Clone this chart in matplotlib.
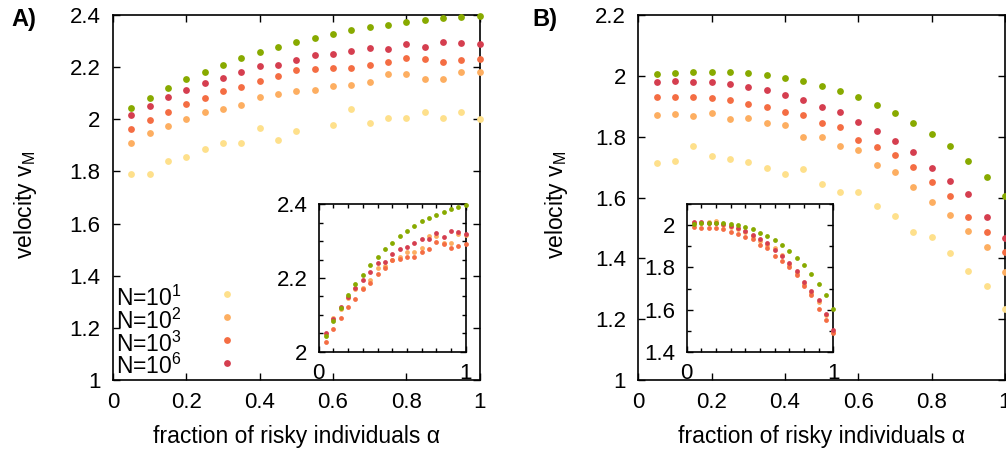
import numpy as np
import matplotlib
matplotlib.use("Agg")
import matplotlib.pyplot as plt
from matplotlib.ticker import FuncFormatter, MultipleLocator

plt.rcParams['font.family'] = ['Liberation Sans', 'DejaVu Sans']
plt.rcParams['mathtext.fontset'] = 'custom'
plt.rcParams['mathtext.rm'] = 'Liberation Sans'
plt.rcParams['mathtext.it'] = 'Liberation Sans:italic'
plt.rcParams['mathtext.bf'] = 'Liberation Sans:bold'

nan = np.nan
alpha = [0.05, 0.10, 0.15, 0.20, 0.25, 0.30, 0.35, 0.40, 0.45, 0.50,
         0.55, 0.60, 0.65, 0.70, 0.75, 0.80, 0.85, 0.90, 0.95, 1.00]

legend_labels = ['N=10$^1$', 'N=10$^2$', 'N=10$^3$', 'N=10$^6$']

# Panel A (main)
A_N1 = [1.789, 1.791, 1.841, 1.854, 1.885, 1.908, 1.908, 1.968, 1.922, 1.954,
        nan, 1.978, 2.038, 1.986, 2.006, 2.006, 2.027, 2.005, 2.028, 2.002]
A_N2 = [1.910, 1.949, 1.973, 2.002, 2.029, 2.038, 2.053, 2.087, 2.096, 2.110,
        2.111, 2.129, 2.130, 2.142, 2.172, 2.172, 2.156, 2.153, 2.180, 2.180]
A_N3 = [1.964, 1.998, 2.027, 2.059, 2.080, 2.107, 2.124, 2.148, 2.165, 2.188,
        2.193, 2.197, 2.195, 2.208, 2.218, 2.236, 2.230, 2.221, 2.227, 2.230]
A_N6 = [2.015, 2.050, 2.084, 2.112, 2.138, 2.160, 2.181, 2.204, 2.207, 2.229,
        2.245, 2.252, 2.262, 2.272, 2.271, 2.289, 2.277, 2.295, 2.291, 2.287]
A_ref = [2.042, 2.083, 2.119, 2.153, 2.183, 2.209, 2.235, 2.258, 2.279, 2.296,
         2.313, 2.327, 2.341, 2.354, 2.363, 2.372, 2.380, 2.387, 2.394, 2.397]

# Panel A (inset)
IA_N2 = [2.048, 2.091, 2.117, 2.146, 2.170, 2.174, 2.195, 2.226, 2.232, 2.250,
         2.256, 2.270, 2.270, 2.282, 2.313, 2.313, 2.294, 2.294, 2.319, 2.318]
IA_N3 = [2.026, 2.062, 2.091, 2.122, 2.143, 2.170, 2.186, 2.211, 2.227, 2.250,
         2.251, 2.258, 2.258, 2.270, 2.279, 2.297, 2.293, 2.282, 2.288, 2.291]
IA_N6 = [2.052, 2.090, 2.120, 2.148, 2.173, 2.195, 2.216, 2.240, 2.243, 2.264,
         2.280, 2.285, 2.296, 2.307, 2.305, 2.323, 2.312, 2.328, 2.324, 2.320]
IA_ref = A_ref

# Panel B (main)
B_N1 = [1.714, 1.719, 1.769, 1.738, 1.727, 1.718, 1.698, 1.676, 1.695, 1.646,
        1.619, 1.619, 1.572, 1.540, 1.487, 1.471, 1.418, 1.359, 1.309, 1.235]
B_N2 = [1.871, 1.875, 1.869, 1.879, 1.857, 1.862, 1.845, 1.837, 1.800, 1.798,
        1.770, 1.755, 1.707, 1.684, 1.635, 1.584, 1.541, 1.490, 1.438, 1.354]
B_N3 = [1.930, 1.929, 1.929, 1.927, 1.920, 1.907, 1.898, 1.882, 1.872, 1.846,
        1.833, 1.790, 1.767, 1.739, 1.701, 1.650, 1.605, 1.537, 1.487, 1.421]
B_N6 = [1.979, 1.983, 1.981, 1.979, 1.972, 1.963, 1.955, 1.936, 1.920, 1.898,
        1.880, 1.847, 1.820, 1.787, 1.750, 1.697, 1.654, 1.610, 1.537, 1.467]
B_ref = [2.006, 2.010, 2.013, 2.013, 2.013, 2.008, 2.002, 1.993, 1.982, 1.966,
         1.950, 1.929, 1.905, 1.878, 1.846, 1.810, 1.768, 1.721, 1.667, 1.605]

# Panel B (inset)
IB_N2 = [2.010, 2.012, 2.014, 2.020, 2.002, 1.994, 1.982, 1.968, 1.950, 1.925,
         1.905, 1.893, 1.858, 1.812, 1.775, 1.720, 1.680, 1.635, 1.575, 1.492]
IB_N3 = [1.991, 1.989, 1.989, 1.986, 1.981, 1.968, 1.959, 1.943, 1.934, 1.908,
         1.894, 1.853, 1.831, 1.802, 1.764, 1.712, 1.668, 1.601, 1.550, 1.487]
IB_N6 = [2.014, 2.016, 2.013, 2.013, 2.006, 1.997, 1.986, 1.972, 1.956, 1.935,
         1.915, 1.884, 1.854, 1.823, 1.785, 1.732, 1.690, 1.645, 1.578, 1.503]
IB_ref = B_ref

C_N1 = '#fee08b'
C_N2 = '#fdae61'
C_N3 = '#f46d43'
C_N6 = '#d53e4f'
C_REF = '#88aa00'

W, H = 1006, 453
fig = plt.figure(figsize=(W / 100, H / 100), dpi=100)

def px(l, t, r, b):
    return [l / W, 1 - b / H, (r - l) / W, (b - t) / H]

gfmt = FuncFormatter(lambda v, p: f"{v:g}")
TICK_FS = 16
LAB_FS = 16.5
LEG_FS = 16.5

def style_main(ax, ymin, ymax):
    ax.set_xlim(0, 1)
    ax.set_ylim(ymin, ymax)
    ax.xaxis.set_major_locator(MultipleLocator(0.2))
    ax.yaxis.set_major_locator(MultipleLocator(0.2))
    ax.xaxis.set_major_formatter(gfmt)
    ax.yaxis.set_major_formatter(gfmt)
    ax.tick_params(direction='in', top=True, right=True, length=5, width=1,
                   labelsize=TICK_FS, pad=9)
    for s in ax.spines.values():
        s.set_linewidth(1.2)

def style_inset(ax, ymin, ymax, ymaj, ymin_step):
    ax.set_xlim(0, 1)
    ax.set_ylim(ymin, ymax)
    ax.xaxis.set_major_locator(MultipleLocator(1))
    ax.xaxis.set_minor_locator(MultipleLocator(0.1))
    ax.yaxis.set_major_locator(MultipleLocator(ymaj))
    ax.yaxis.set_minor_locator(MultipleLocator(ymin_step))
    ax.xaxis.set_major_formatter(gfmt)
    ax.yaxis.set_major_formatter(gfmt)
    ax.tick_params(which='both', direction='in', top=True, right=True,
                   width=1, labelsize=TICK_FS)
    ax.tick_params(which='major', length=4, pad=8)
    ax.tick_params(which='minor', length=3)
    for s in ax.spines.values():
        s.set_linewidth(1.2)

MS = 24
IMS = 12

# ---------- Panel A ----------
axA = fig.add_axes(px(113, 15, 479.6, 380))
for ys, c in [(A_N1, C_N1), (A_N2, C_N2), (A_N3, C_N3), (A_N6, C_N6), (A_ref, C_REF)]:
    axA.scatter(alpha, ys, s=MS, color=c, linewidths=0, clip_on=False, zorder=3)
style_main(axA, 1, 2.4)
axA.set_xlabel('fraction of risky individuals α', fontsize=LAB_FS)
axA.set_ylabel('velocity v$_\\mathrm{M}$', fontsize=LAB_FS)
axA.xaxis.set_label_coords(0.5, -0.156)
axA.xaxis.label.set_va('center')
axA.yaxis.set_label_coords(-0.24, 0.48)
axA.yaxis.label.set_va('center')

# legend (text + sample marker)
leg_base = [0.2027, 0.1397, 0.0775, 0.0164]
leg_mark = [0.235, 0.172, 0.109, 0.047]
for lab, c, yb, ym in zip(legend_labels, [C_N1, C_N2, C_N3, C_N6], leg_base, leg_mark):
    axA.text(0.008, yb, lab, transform=axA.transAxes, fontsize=LEG_FS,
             va='baseline', ha='left')
    axA.scatter([0.31], [ym], s=MS, color=c, linewidths=0,
                transform=axA.transAxes, clip_on=False, zorder=3)

iaA = fig.add_axes(px(318.7, 204.3, 465.7, 351.7))
for ys, c in [(IA_N2, C_N2), (IA_N3, C_N3), (IA_N6, C_N6), (IA_ref, C_REF)]:
    iaA.scatter(alpha, ys, s=IMS, color=c, linewidths=0, clip_on=False, zorder=3)
style_inset(iaA, 2, 2.4, 0.2, 0.05)

# ---------- Panel B ----------
axB = fig.add_axes(px(638.3, 15, 1005, 380))
for ys, c in [(B_N1, C_N1), (B_N2, C_N2), (B_N3, C_N3), (B_N6, C_N6), (B_ref, C_REF)]:
    axB.scatter(alpha, ys, s=MS, color=c, linewidths=0, clip_on=False, zorder=3)
style_main(axB, 1, 2.2)
axB.set_xlabel('fraction of risky individuals α', fontsize=LAB_FS)
axB.set_ylabel('velocity v$_\\mathrm{M}$', fontsize=LAB_FS)
axB.xaxis.set_label_coords(0.5, -0.156)
axB.xaxis.label.set_va('center')
axB.yaxis.set_label_coords(-0.222, 0.48)
axB.yaxis.label.set_va('center')

iaB = fig.add_axes(px(686.7, 204.3, 833.3, 351.7))
for ys, c in [(IB_N2, C_N2), (IB_N3, C_N3), (IB_N6, C_N6), (IB_ref, C_REF)]:
    iaB.scatter(alpha, ys, s=IMS, color=c, linewidths=0, clip_on=False, zorder=3)
style_inset(iaB, 1.4, 2.1, 0.2, 0.1)

fig.text(11 / W, 1 - 26 / H, 'A)', fontsize=17, fontweight='bold', va='baseline')
fig.text(532 / W, 1 - 26 / H, 'B)', fontsize=17, fontweight='bold', va='baseline')

fig.savefig('out.png', dpi=100)
